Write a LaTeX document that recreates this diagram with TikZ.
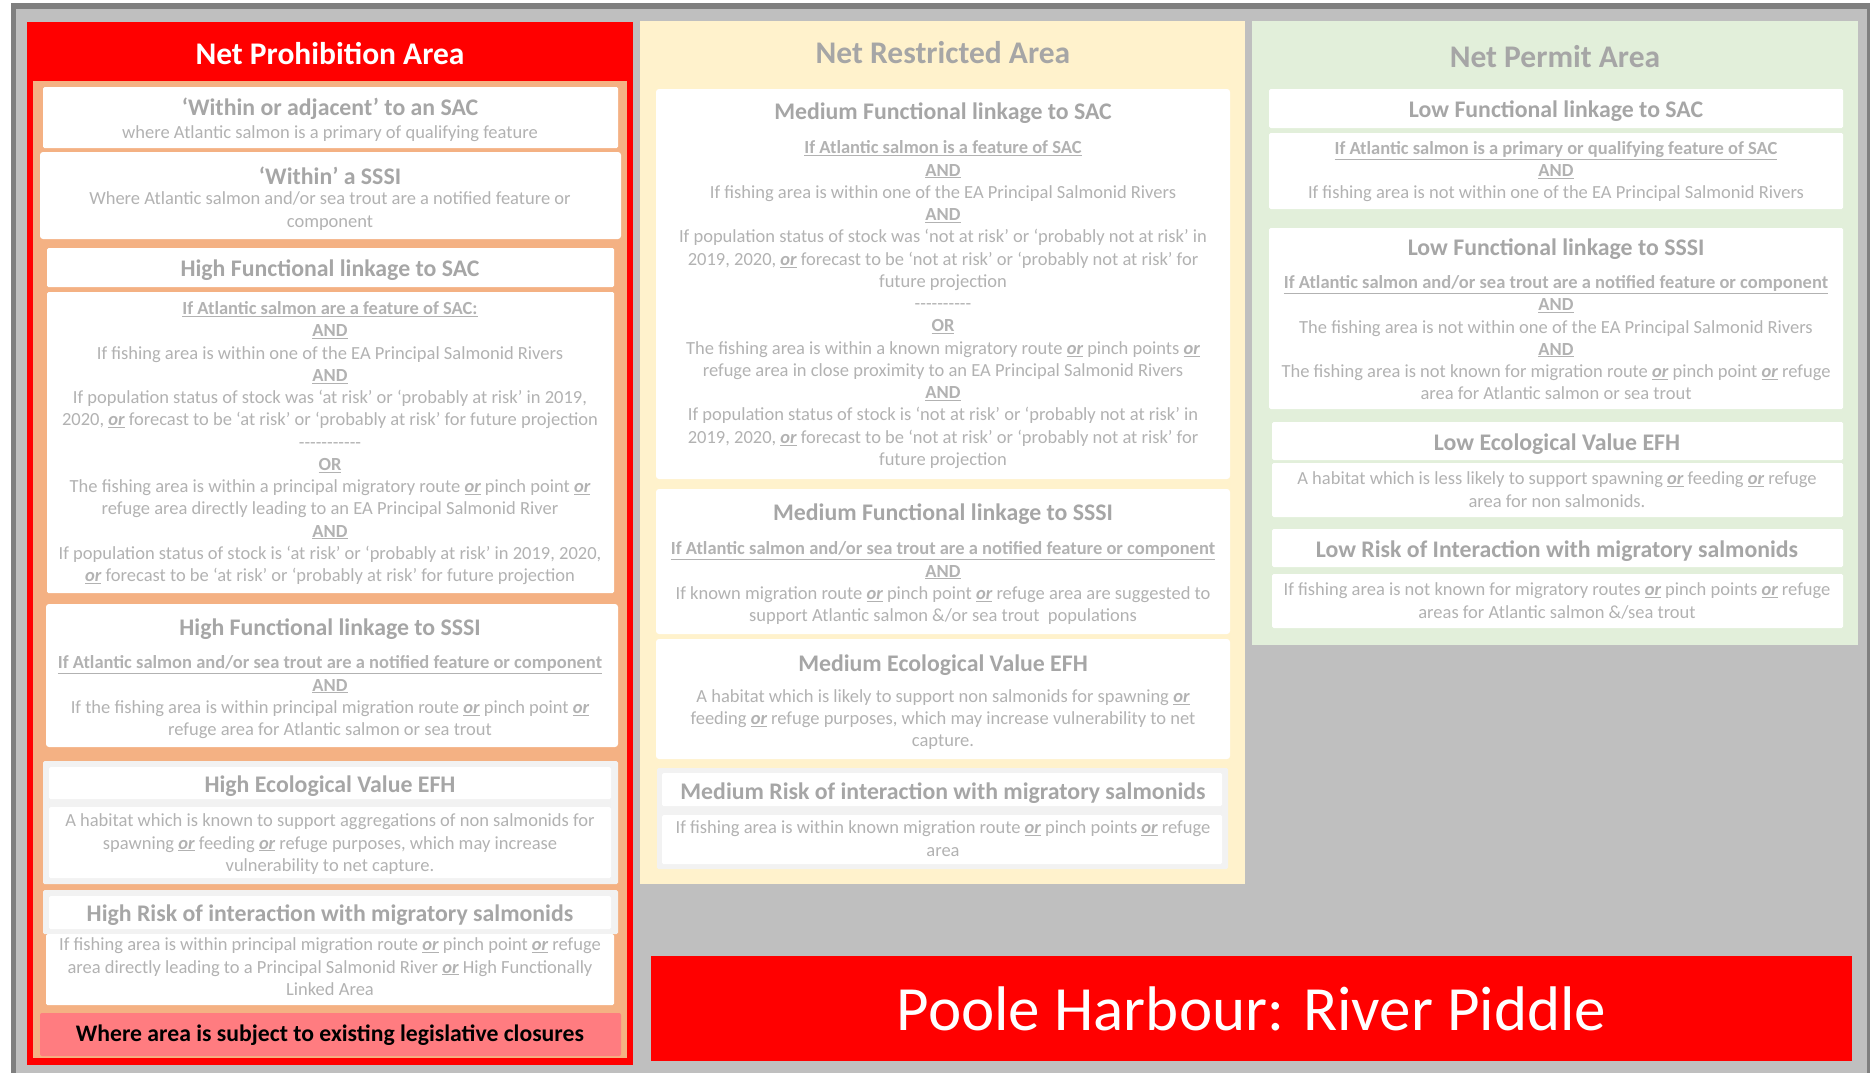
\documentclass[tikz,border=0pt]{standalone}
\usepackage{fontspec}
\setmainfont{Carlito}[Ligatures=TeXOff]
\usepackage{tikz}
\usetikzlibrary{positioning,fit}

\definecolor{netred}{HTML}{FF0000}
\definecolor{peach}{HTML}{F4B183}
\definecolor{closepink}{HTML}{FF7C80}
\definecolor{cream}{HTML}{FFF2CC}
\definecolor{permitgreen}{HTML}{E2EFDA}
\definecolor{framedark}{HTML}{7F7F7F}
\definecolor{framelight}{HTML}{BFBFBF}
\definecolor{boxgrey}{HTML}{F2F2F2}
\definecolor{headgrey}{RGB}{166,166,166}
\definecolor{bodygrey}{RGB}{178,178,178}

\newcommand{\uor}{\textbf{\textit{\underline{or}}}}
\newcommand{\ubf}[1]{\underline{\textbf{#1}}}

\begin{document}
\begin{tikzpicture}[
        x=1pt, y=-1pt,
        % Styles
        panel/.style={inner sep=0pt, outer sep=0pt},
        whitebox/.style={fill=white, inner sep=0pt, outer sep=0pt, rounded corners=1.5pt},
        greybox/.style={fill=boxgrey, inner sep=0pt, outer sep=0pt, rounded corners=1.5pt},
        title/.style={font=\bfseries\fontsize{31.5}{38}\selectfont, text=headgrey, inner sep=0pt},
        head/.style={font=\bfseries\fontsize{23.8}{28}\selectfont, text=headgrey, inner sep=0pt, yshift=-2pt},
        body/.style={font=\fontsize{18.5}{22.25}\selectfont, text=bodygrey, align=center, inner sep=0pt, yshift=-2.5pt,
                     execute at begin node=\strut, execute at end node=\strut}
    ]

    % background and frame
    \useasboundingbox (0,0) rectangle (1870,1073);
    \fill[white] (0,0) rectangle (1870,1073);
    \node[panel, fill=framedark, fit={(11,3) (1870,1073)}] (frameout) {};
    \node[panel, fill=framelight, fit={(16,9) (1867,1073)}] (framein) {};

    % ================= LEFT PANEL =================
    \node[panel, fill=netred, fit={(27,22) (633,1065)}] (prohib) {};
    \node[panel, fill=peach, fit={(33,81) (627,1058)}] (prohibin) {};
    \node[title, text=white] (prohibtitle) at (330,54) {Net Prohibition Area};

    % SAC / SSSI designations
    \node[whitebox, fit={(43,87) (618,148)}] (insac) {};
    \node[head] (insachead) at (330,107) {‘Within or adjacent’ to an SAC};
    \node[body] (insactext) at (330,132) {where Atlantic salmon is a primary of qualifying feature};

    \node[whitebox, rounded corners=3pt, fit={(40,152) (621,239)}] (insssi) {};
    \node[head] (insssihead) at (330,174) {‘Within’ a SSSI};
    \node[body] (insssitext) at (330,210.5) {Where Atlantic salmon and/or sea trout are a notified feature or\\ component};

    % High functional linkage
    \node[whitebox, fit={(47,248) (614,287)}] (hisachd) {};
    \node[head] (hisachead) at (330,268) {High Functional linkage to SAC};
    \node[whitebox, fit={(47,292) (614,593)}] (hisac) {};
    \node[body] (hisactext) at (330,442.5) {\ubf{If Atlantic salmon are a feature of SAC:}\\
        \ubf{AND}\\
        If fishing area is within one of the EA Principal Salmonid Rivers\\
        \ubf{AND}\\
        If population status of stock was ‘at risk’ or ‘probably at risk’ in 2019,\\
        2020, \uor{} forecast to be ‘at risk’ or ‘probably at risk’ for future projection\\
        -----------\\
        \ubf{OR}\\
        The fishing area is within a principal migratory route \uor{} pinch point \uor\\
        refuge area directly leading to an EA Principal Salmonid River\\
        \ubf{AND}\\
        If population status of stock is ‘at risk’ or ‘probably at risk’ in 2019, 2020,\\
        \uor{} forecast to be ‘at risk’ or ‘probably at risk’ for future projection};

    \node[whitebox, rounded corners=3pt, fit={(46,604) (618,747)}] (hisssi) {};
    \node[head] (hisssihead) at (330,627) {High Functional linkage to SSSI};
    \node[body] (hisssitext) at (330,696.5) {\ubf{If Atlantic salmon and/or sea trout are a notified feature or component}\\
        \ubf{AND}\\
        If the fishing area is within principal migration route \uor{} pinch point \uor\\
        refuge area for Atlantic salmon or sea trout};

    % High ecological value
    \node[greybox, fit={(43,761) (618,884)}] (hiefh) {};
    \node[whitebox, fit={(49,767) (611,799)}] (hiefhhd) {};
    \node[head] (hiefhhead) at (330,784) {High Ecological Value EFH};
    \node[whitebox, fit={(49,807) (611,878)}] (hiefhbd) {};
    \node[body] (hiefhtext) at (330,843.5) {A habitat which is known to support aggregations of non salmonids for\\
        spawning \uor{} feeding \uor{} refuge purposes, which may increase\\
        vulnerability to net capture.};

    % High risk
    \node[greybox, fit={(43,890) (618,934)}] (hirisk) {};
    \node[whitebox, fit={(49,896) (611,929)}] (hiriskhd) {};
    \node[head] (hiriskhead) at (330,913) {High Risk of interaction with migratory salmonids};
    \node[whitebox, fit={(46,934) (614,1005)}] (hiriskbd) {};
    \node[body] (hirisktext) at (330,967.5) {If fishing area is within principal migration route \uor{} pinch point \uor{} refuge\\
        area directly leading to a Principal Salmonid River \uor{} High Functionally\\
        Linked Area};

    % Legislative closures
    \node[panel, fill=closepink, rounded corners=2pt, fit={(40,1013) (621,1056)}] (closure) {};
    \node[font=\bfseries\fontsize{23.7}{28}\selectfont, text=black] (closuretext) at (330,1035) {Where area is subject to existing legislative closures};


    % ================= MIDDLE PANEL =================
    \node[panel, fill=cream, fit={(640,21) (1245,884)}] (restrict) {};
    \node[title] (restricttitle) at (943,53) {Net Restricted Area};

    \node[whitebox, rounded corners=3pt, fit={(656,89) (1230,479)}] (medsac) {};
    \node[head] (medsachead) at (943,111) {Medium Functional linkage to SAC};
    \node[body] (medsactext) at (943,304) {\ubf{If Atlantic salmon is a feature of SAC}\\
        \ubf{AND}\\
        If fishing area is within one of the EA Principal Salmonid Rivers\\
        \ubf{AND}\\
        If population status of stock was ‘not at risk’ or ‘probably not at risk’ in\\
        2019, 2020, \uor{} forecast to be ‘not at risk’ or ‘probably not at risk’ for\\
        future projection\\
        ----------\\
        \ubf{OR}\\
        The fishing area is within a known migratory route \uor{} pinch points \uor\\
        refuge area in close proximity to an EA Principal Salmonid Rivers\\
        \ubf{AND}\\
        If population status of stock is ‘not at risk’ or ‘probably not at risk’ in\\
        2019, 2020, \uor{} forecast to be ‘not at risk’ or ‘probably not at risk’ for\\
        future projection};

    \node[whitebox, rounded corners=3pt, fit={(656,489) (1230,634)}] (medsssi) {};
    \node[head] (medsssihead) at (943,512) {Medium Functional linkage to SSSI};
    \node[body] (medsssitext) at (943,582.5) {\ubf{If Atlantic salmon and/or sea trout are a notified feature or component}\\
        \ubf{AND}\\
        If known migration route \uor{} pinch point \uor{} refuge area are suggested to\\
        support Atlantic salmon \&/or sea trout\ \ populations};

    \node[whitebox, rounded corners=3pt, fit={(656,639) (1230,759)}] (medefh) {};
    \node[head] (medefhhead) at (943,663) {Medium Ecological Value EFH};
    \node[body] (medefhtext) at (943,719) {A habitat which is likely to support non salmonids for spawning \uor\\
        feeding \uor{} refuge purposes, which may increase vulnerability to net\\
        capture.};

    \node[greybox, fit={(657,768) (1228,869)}] (medrisk) {};
    \node[whitebox, fit={(662,773) (1222,806)}] (medriskhd) {};
    \node[head] (medriskhead) at (943,791) {Medium Risk of interaction with migratory salmonids};
    \node[whitebox, fit={(662,815) (1222,864)}] (medriskbd) {};
    \node[body] (medrisktext) at (943,839.5) {If fishing area is within known migration route \uor{} pinch points \uor{} refuge\\
        area};


    % ================= RIGHT PANEL =================
    \node[panel, fill=permitgreen, fit={(1252,21) (1858,645)}] (permit) {};
    \node[title] (permittitle) at (1555,57) {Net Permit Area};

    \node[whitebox, fit={(1269,89) (1843,128)}] (lowsachd) {};
    \node[head] (lowsachead) at (1556,109) {Low Functional linkage to SAC};
    \node[whitebox, fit={(1269,133) (1843,209)}] (lowsac) {};
    \node[body] (lowsactext) at (1556,171) {\ubf{If Atlantic salmon is a primary or qualifying feature of SAC}\\
        \ubf{AND}\\
        If fishing area is not within one of the EA Principal Salmonid Rivers};

    \node[whitebox, fit={(1269,228) (1843,409)}] (lowsssi) {};
    \node[head] (lowsssihead) at (1556,247) {Low Functional linkage to SSSI};
    \node[body] (lowsssitext) at (1556,338.5) {\ubf{If Atlantic salmon and/or sea trout are a notified feature or component}\\
        \ubf{AND}\\
        The fishing area is not within one of the EA Principal Salmonid Rivers\\
        \ubf{AND}\\
        The fishing area is not known for migration route \uor{} pinch point \uor{} refuge\\
        area for Atlantic salmon or sea trout};

    \node[whitebox, fit={(1272,422) (1843,460)}] (lowefhhd) {};
    \node[head] (lowefhhead) at (1557,442) {Low Ecological Value EFH};
    \node[whitebox, fit={(1272,463) (1843,517)}] (lowefh) {};
    \node[body] (lowefhtext) at (1557,490.5) {A habitat which is less likely to support spawning \uor{} feeding \uor{} refuge\\
        area for non salmonids.};

    \node[whitebox, fit={(1272,529) (1843,567)}] (lowriskhd) {};
    \node[head] (lowriskhead) at (1557,549) {Low Risk of Interaction with migratory salmonids};
    \node[whitebox, fit={(1272,574) (1843,628)}] (lowrisk) {};
    \node[body] (lowrisktext) at (1557,601.5) {If fishing area is not known for migratory routes \uor{} pinch points \uor{} refuge\\
        areas for Atlantic salmon \&/sea trout};


    % ================= BANNER =================
    \node[panel, fill=netred, fit={(651,956) (1852,1061)}] (banner) {};
    \node[font=\fontsize{63}{75}\selectfont, text=white] (bannertext) at (banner.center) {Poole Harbour: River Piddle};

\end{tikzpicture}
\end{document}
